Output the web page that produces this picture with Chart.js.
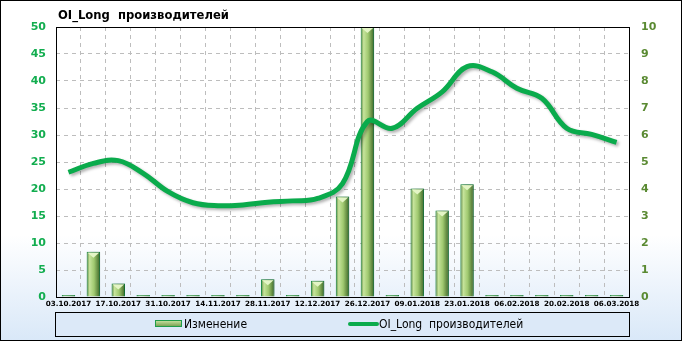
<!DOCTYPE html>
<html>
<head>
<meta charset="utf-8">
<script src="https://cdn.jsdelivr.net/npm/chart.js@4/dist/chart.umd.min.js"></script>
<style>
  body { margin: 0; background: #fff; }
  #wrap { width: 682px; height: 341px; }
</style>
</head>
<body>
<div id="wrap"><canvas id="chart" width="682" height="341"></canvas></div>
<script>
// data
const dates = ["03.10.2017", "10.10.2017", "17.10.2017", "24.10.2017", "31.10.2017", "07.11.2017",
	"14.11.2017", "21.11.2017", "28.11.2017", "05.12.2017", "12.12.2017", "19.12.2017",
	"26.12.2017", "02.01.2018", "09.01.2018", "16.01.2018", "23.01.2018", "30.01.2018",
	"06.02.2018", "13.02.2018", "20.02.2018", "27.02.2018", "06.03.2018"]
const change = [0, 8.4, 2.5, 0, 0, 0, 0, 0, 3.3, 0, 3.0, 18.6, 50, 0, 20.1, 16.0, 20.9, 0, 0, 0, 0, 0, 0]
const oiLong = [4.62, 4.95, 5.05, 4.58, 3.9, 3.49, 3.38, 3.41, 3.51, 3.56, 3.65, 4.2,
	6.5, 6.25, 6.99, 7.6, 8.53, 8.34, 7.73, 7.36, 6.25, 6.02, 5.73]
const leftTicks = [0, 5, 10, 15, 20, 25, 30, 35, 40, 45, 50]
const rightTicks = [0, 1, 2, 3, 4, 5, 6, 7, 8, 9, 10]
const titleText = "OI_Long  производителей"

const BAR_PCT = 0.54
const lineColor = "#0aab4c"

// horizontal gradient for each bar, built from the x scale
barFill = (c) => {
	const chart = c.chart
	const sx = chart.scales.x
	if (!sx || c.dataIndex == null) return "#a9d07a"
	const cx = sx.getPixelForValue(c.dataIndex)
	const w = (sx.width / dates.length) * BAR_PCT
	if (!isFinite(cx) || !isFinite(w) || w <= 0) return "#a9d07a"
	const g = chart.ctx.createLinearGradient(cx - w / 2, 0, cx + w / 2, 0)
	g.addColorStop(0, "#537f33")
	g.addColorStop(0.22, "#c6e49c")
	g.addColorStop(0.55, "#a0c970")
	g.addColorStop(1, "#3c6526")
	return g
}

const decor = {
	id: "decor",
	beforeDraw(chart) {
		const ctx = chart.ctx
		ctx.save()
		const g = ctx.createLinearGradient(0, 235, 0, 341)
		g.addColorStop(0, "#ffffff")
		g.addColorStop(1, "#d9e8f8")
		ctx.fillStyle = g
		ctx.fillRect(0, 0, chart.width, chart.height)
		ctx.restore()
	},
	beforeDatasetDraw(chart, args) {
		const ctx = chart.ctx
		ctx.save()
		if (args.meta.type === "bar") {
			ctx.shadowColor = "rgba(0,0,0,0.35)"
			ctx.shadowBlur = 4
			ctx.shadowOffsetX = 2
			ctx.shadowOffsetY = -1
		} else {
			ctx.shadowColor = "rgba(0,0,0,0.3)"
			ctx.shadowBlur = 3
			ctx.shadowOffsetX = 2
			ctx.shadowOffsetY = 2
		}
	},
	afterDatasetDraw(chart, args) {
		const ctx = chart.ctx
		ctx.restore()
		if (args.meta.type !== "bar") return
		// light bevel at the top of each bar
		ctx.save()
		ctx.fillStyle = "#e4f5c6"
		args.meta.data.forEach(bar => {
			const h = bar.base - bar.y
			if (h < 6) return
			const w = bar.width - 2
			ctx.beginPath()
			ctx.moveTo(bar.x - w / 2, bar.y + 1)
			ctx.lineTo(bar.x + w / 2, bar.y + 1)
			ctx.lineTo(bar.x, bar.y + 6)
			ctx.closePath()
			ctx.fill()
		})
		ctx.restore()
	},
	afterDraw(chart) {
		const ctx = chart.ctx
		const a = chart.chartArea
		ctx.save()
		// plot frame
		ctx.strokeStyle = "#000"
		ctx.lineWidth = 1
		ctx.strokeRect(Math.round(a.left) + 0.5, Math.round(a.top) + 0.5, Math.round(a.right - a.left), Math.round(a.bottom - a.top))
		// outer frame
		ctx.strokeRect(0.5, 0.5, chart.width - 1, chart.height - 1)
		// title
		ctx.fillStyle = "#000"
		ctx.font = "bold 11.6px 'DejaVu Sans'"
		ctx.textBaseline = "alphabetic"
		ctx.textAlign = "left"
		ctx.fillText(titleText, 58, 19)
		// legend box
		ctx.fillStyle = "#dce9f8"
		ctx.fillRect(55, 312, 574, 24)
		ctx.strokeRect(55.5, 312.5, 574, 24)
		const ds = chart.data.datasets
		ctx.font = "12px 'DejaVu Sans Condensed'"
		ctx.textBaseline = "middle"
		// bar swatch
		const sg = ctx.createLinearGradient(0, 320, 0, 327)
		sg.addColorStop(0, "#cfe8a8")
		sg.addColorStop(1, "#6f9a48")
		ctx.fillStyle = sg
		ctx.fillRect(155, 320.5, 26, 6)
		ctx.strokeStyle = "#1f9d4a"
		ctx.strokeRect(155.5, 320.5, 26, 6)
		ctx.fillStyle = "#000"
		ctx.fillText(ds[0].label, 184, 324.5)
		// line swatch
		ctx.strokeStyle = lineColor
		ctx.lineWidth = 4
		ctx.lineCap = "round"
		ctx.beginPath()
		ctx.moveTo(350, 324)
		ctx.lineTo(377, 324)
		ctx.stroke()
		ctx.fillText(ds[1].label, 379, 324.5)
		ctx.restore()
	}
}

const dash = [4, 4]
const tickFont = {family: "'DejaVu Sans'", size: 11, weight: "bold"}

new Chart(document.getElementById("chart"), {
	data: {
		labels: dates,
		datasets: [
			{
				type: "bar",
				label: "Изменение",
				data: change,
				yAxisID: "y",
				backgroundColor: barFill,
				borderColor: "#1a8f42",
				borderWidth: 1,
				barPercentage: BAR_PCT,
				categoryPercentage: 1,
				minBarLength: 2,
				order: 2
			},
			{
				type: "line",
				label: "OI_Long  производителей",
				data: oiLong,
				yAxisID: "y1",
				borderColor: lineColor,
				borderWidth: 5,
				tension: 0.4,
				pointRadius: 0,
				fill: false,
				order: 1
			}
		]
	},
	options: {
		responsive: false,
		animation: false,
		layout: {padding: {top: 27, left: 0, right: 0, bottom: 0}},
		plugins: {legend: {display: false}, tooltip: {enabled: false}},
		scales: {
			x: {
				type: "category",
				offset: true,
				grid: {offset: true, color: "#bdbdbd", drawTicks: false, tickLength: 0},
				border: {display: false, dash: dash},
				ticks: {
					autoSkip: false,
					maxRotation: 0,
					padding: 3,
					color: "#000",
					font: {family: "'DejaVu Sans'", size: 7.2, weight: "bold"},
					callback: (v, i) => i % 2 === 0 ? dates[i] : ""
				},
				afterFit: s => { s.height = 44 }
			},
			y: {
				position: "left",
				min: 0,
				max: 50,
				grid: {color: "#bdbdbd", drawTicks: false},
				border: {display: false, dash: dash},
				afterBuildTicks: s => { s.ticks = leftTicks.map(v => ({value: v})) },
				ticks: {padding: 10, color: "#12ad4f", font: tickFont},
				afterFit: s => { s.width = 56 }
			},
			y1: {
				position: "right",
				min: 0,
				max: 10,
				grid: {display: false, drawTicks: false},
				border: {display: false},
				afterBuildTicks: s => { s.ticks = rightTicks.map(v => ({value: v})) },
				ticks: {padding: 12, color: "#5a8a32", font: tickFont},
				afterFit: s => { s.width = 53 }
			}
		}
	},
	plugins: [decor]
})
</script>
</body>
</html>
